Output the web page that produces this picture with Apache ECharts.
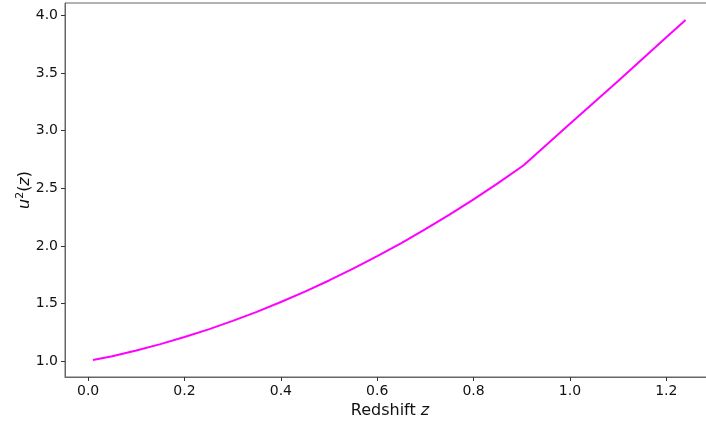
<!DOCTYPE html>
<html>
<head>
<meta charset="utf-8">
<script src="https://cdn.jsdelivr.net/npm/echarts@6/dist/echarts.min.js"></script>
<style>
html,body{margin:0;padding:0;background:#fff;overflow:hidden;}
#chart{width:706px;height:423px;}
</style>
</head>
<body>
<div id="chart"></div>
<script>
const redshift = [0.01,0.05,0.10,0.15,0.20,0.25,0.30,0.35,0.40,0.45,0.50,0.55,0.60,0.65,0.70,0.75,0.80,0.85,0.904,1.00,1.10,1.20,1.24];
const u2 = [1.010,1.043,1.093,1.148,1.209,1.276,1.349,1.428,1.513,1.603,1.700,1.803,1.911,2.025,2.146,2.272,2.404,2.543,2.700,3.060,3.430,3.810,3.960];
const xTicks = [0.0,0.2,0.4,0.6,0.8,1.0,1.2];
const yTicks = [1.0,1.5,2.0,2.5,3.0,3.5,4.0];

const font = 'DejaVu Sans';
const chart = echarts.init(document.getElementById('chart'), null, {renderer:'canvas'});
chart.setOption({
  animation:false,
  backgroundColor:'#fff',
  grid:{left:65, width:650, top:3, height:374, containLabel:false, outerBoundsMode:'none', show:true, borderColor:'#666', borderWidth:1},
  xAxis:{
    type:'value', min:-0.048, max:1.301,
    name:'{n|Redshift }{i|z}', nameLocation:'middle', nameGap:24,
    nameTextStyle:{rich:{n:{fontFamily:font,fontSize:16,color:'#111'},i:{fontFamily:font,fontStyle:'italic',fontSize:16,color:'#111'}}},
    axisLine:{show:true,onZero:false,lineStyle:{color:'#666',width:1}},
    axisTick:{show:true,length:4,inside:false,customValues:xTicks,lineStyle:{color:'#333'}},
    axisLabel:{customValues:xTicks,margin:7,fontFamily:font,fontSize:14,color:'#111',formatter:v=>v.toFixed(1)},
    splitLine:{show:false}
  },
  yAxis:{
    type:'value', min:0.8625, max:4.1075,
    name:'{i|u}{s|2}{n|(}{i|z}{n|)}', nameLocation:'middle', nameGap:31, nameRotate:90, nameMoveOverlap:false,
    nameTextStyle:{rich:{
      n:{fontFamily:font,fontSize:16,color:'#111'},
      i:{fontFamily:font,fontStyle:'italic',fontSize:16,color:'#111'},
      s:{fontFamily:font,fontSize:11,color:'#111',padding:[0,0,8,0]}
    }},
    axisLine:{show:true,onZero:false,lineStyle:{color:'#666',width:1}},
    axisTick:{show:true,length:4,customValues:yTicks,lineStyle:{color:'#333'}},
    axisLabel:{customValues:yTicks,margin:7,fontFamily:font,fontSize:14,color:'#111',formatter:v=>v.toFixed(1)},
    splitLine:{show:false}
  },
  series:[{
    type:'line',
    data:redshift.map((z,i)=>[z,u2[i]]),
    showSymbol:false, smooth:false,
    lineStyle:{color:'#ff00ff',width:2},
    itemStyle:{color:'#ff00ff'}
  }]
});
</script>
</body>
</html>
